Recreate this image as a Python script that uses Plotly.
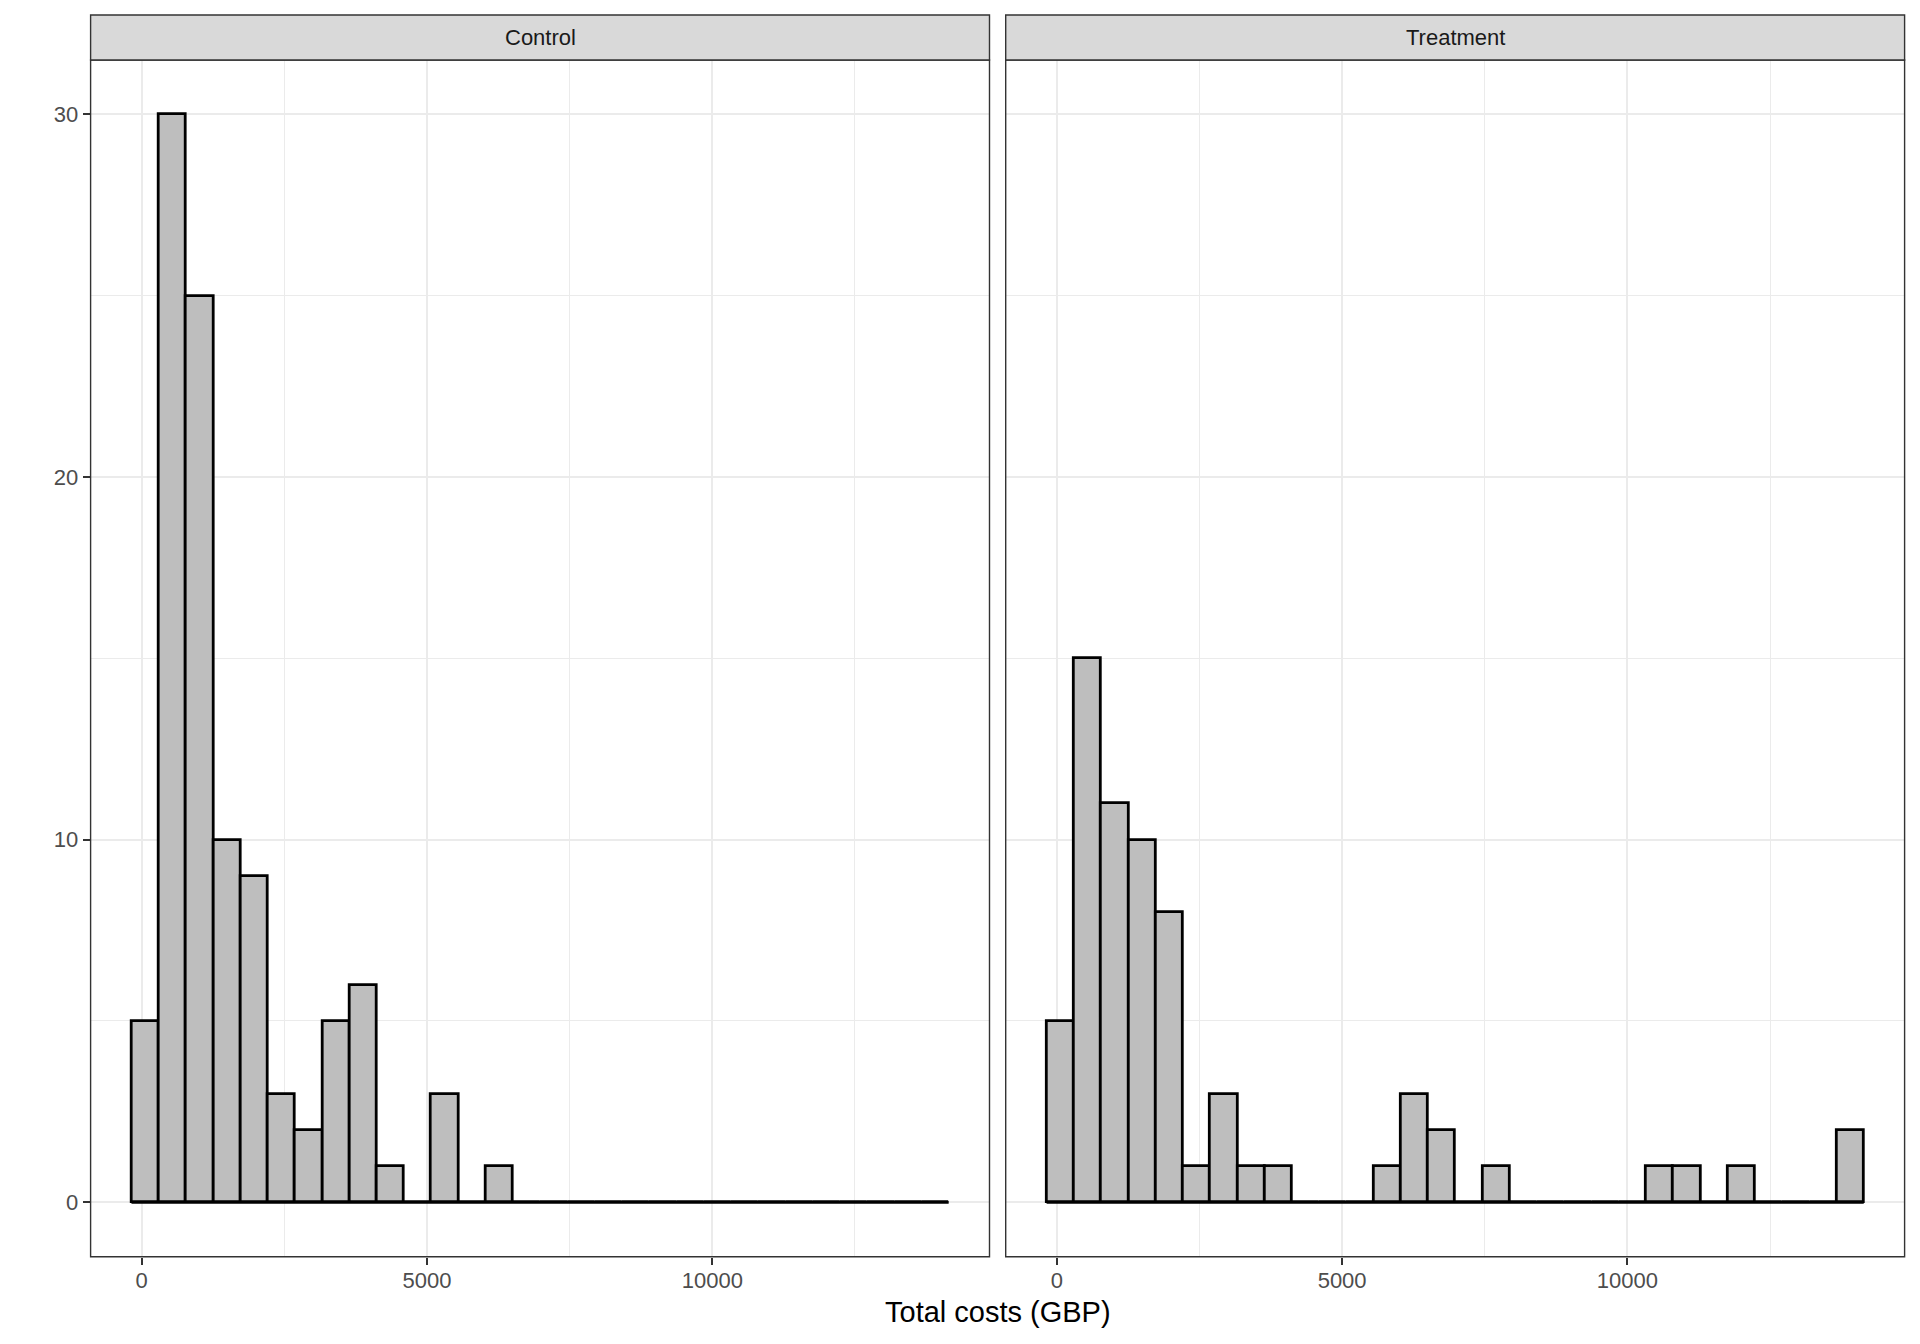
import plotly.graph_objects as go

# histogram bins (30 bins shared by both facets)
bin_start = -180
bin_width = 477.4

groups = ['Control', 'Treatment']

control_counts = [5, 30, 25, 10, 9, 3, 2, 5, 6, 1,
                  0, 3, 0, 1, 0, 0, 0, 0, 0, 0,
                  0, 0, 0, 0, 0, 0, 0, 0, 0, 0]

treatment_counts = [5, 15, 11, 10, 8, 1, 3, 1, 1, 0,
                    0, 0, 1, 3, 2, 0, 1, 0, 0, 0,
                    0, 0, 1, 1, 0, 1, 0, 0, 0, 2]

x_ticks = [0, 5000, 10000]
x_labels = ['0', '5000', '10000']
y_ticks = [0, 10, 20, 30]
y_labels = ['0', '10', '20', '30']

counts = [control_counts, treatment_counts]
n_bins = len(control_counts)
centers = [bin_start + bin_width * (i + 0.5) for i in range(n_bins)]
bin_end = bin_start + bin_width * n_bins

span = bin_end - bin_start
x_range = [bin_start - 0.05 * span, bin_end + 0.05 * span]
y_range = [-1.5, 31.5]

# page body has an 8px margin, so the figure is drawn 8px in
OFF = 8
W, H = 1912, 1328


def px(v):
    return (v - OFF) / W


def py(v):
    return 1 - (v - OFF) / H


x_domains = [[px(90.6), px(989.5)], [px(1005.7), px(1904.6)]]
y_domain = [py(1256.7), py(60)]

fig = go.Figure()

for k, grp in enumerate(groups):
    xa = 'x' if k == 0 else 'x2'
    ya = 'y' if k == 0 else 'y2'
    # baseline so empty bins still show as a flat line
    fig.add_trace(go.Scatter(
        x=[bin_start, bin_end], y=[0, 0], mode='lines',
        line=dict(color='black', width=2.8),
        xaxis=xa, yaxis=ya, showlegend=False, hoverinfo='skip'
    ))
    fig.add_trace(go.Bar(
        x=centers, y=counts[k], width=bin_width,
        marker=dict(color='#BEBEBE', line=dict(color='black', width=2.8)),
        xaxis=xa, yaxis=ya, showlegend=False, name=grp
    ))

axis_common = dict(
    range=x_range, tickvals=x_ticks, ticktext=x_labels, ticks='outside', ticklen=7,
    tickwidth=2, tickcolor='#333333', showline=False, zeroline=False,
    ticklabelstandoff=-3,
    showgrid=True, gridcolor='#EBEBEB', gridwidth=2.2,
    minor=dict(dtick=2500, tick0=0, showgrid=True, gridcolor='#EBEBEB', gridwidth=1.1),
    tickfont=dict(family='Liberation Sans', size=22, color='#4D4D4D'),
)
yaxis_common = dict(
    range=y_range, tickvals=y_ticks, ticktext=y_labels, zeroline=False, showline=False,
    showgrid=True, gridcolor='#EBEBEB', gridwidth=2.2,
    minor=dict(dtick=5, tick0=0, showgrid=True, gridcolor='#EBEBEB', gridwidth=1.1),
    domain=y_domain,
)

fig.update_layout(
    width=W, height=H,
    margin=dict(l=0, r=0, t=0, b=0),
    paper_bgcolor='white', plot_bgcolor='white',
    bargap=0,
    xaxis=dict(domain=x_domains[0], anchor='y', **axis_common),
    xaxis2=dict(domain=x_domains[1], anchor='y2', **axis_common),
    yaxis=dict(anchor='x', ticks='outside', ticklen=7, tickwidth=2, tickcolor='#333333',
               tickfont=dict(family='Liberation Sans', size=22, color='#4D4D4D'),
               **yaxis_common),
    yaxis2=dict(anchor='x2', ticks='', showticklabels=False, **yaxis_common),
)

# panel borders and facet strips
strip_top = py(15)
for k, grp in enumerate(groups):
    xref = 'x domain' if k == 0 else 'x2 domain'
    yref = 'y domain' if k == 0 else 'y2 domain'
    fig.add_shape(type='rect', xref=xref, yref=yref, x0=0, x1=1, y0=0, y1=1,
                  line=dict(color='#333333', width=1.4), fillcolor='rgba(0,0,0,0)', layer='above')
    fig.add_shape(type='rect', xref=xref, yref='paper', x0=0, x1=1,
                  y0=y_domain[1], y1=strip_top,
                  line=dict(color='#333333', width=1.4), fillcolor='#D9D9D9', layer='above')
    fig.add_annotation(text=grp, xref=xref, yref='paper', x=0.5,
                       y=(y_domain[1] + strip_top) / 2, showarrow=False,
                       xanchor='center', yanchor='middle',
                       font=dict(family='Liberation Sans', size=22, color='#1A1A1A'))

fig.add_annotation(text='Total costs (GBP)', xref='paper', yref='paper',
                   x=(x_domains[0][0] + x_domains[1][1]) / 2, y=py(1312),
                   showarrow=False, xanchor='center', yanchor='middle',
                   font=dict(family='Liberation Sans', size=29, color='black'))

fig.write_html('out.html')
